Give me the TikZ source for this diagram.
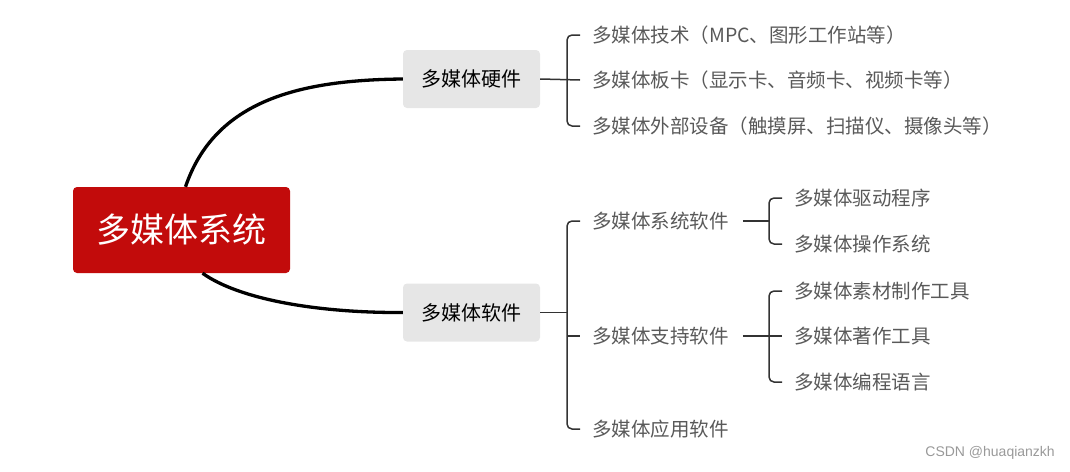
\documentclass[tikz,border=0pt]{standalone}
\usepackage{fontspec}
\setmainfont{Noto Sans CJK SC}
\newfontfamily\wmfont{Liberation Sans}
\definecolor{rootred}{HTML}{C20B0B}
\definecolor{boxgray}{HTML}{E6E6E6}
\definecolor{txtgray}{HTML}{595959}
\definecolor{linegray}{HTML}{333333}
\tikzset{
  rootbox/.style={fill=rootred, rounded corners=4pt, text=white, minimum width=217pt, minimum height=86pt, inner sep=0pt, font=\fontsize{34}{34}\selectfont},
  midbox/.style={fill=boxgray, rounded corners=4pt, text=black, minimum width=137pt, minimum height=58pt, inner sep=0pt, font=\fontsize{20}{20}\selectfont},
  leaf/.style={anchor=west, inner sep=0pt, text=txtgray, font=\fontsize{19.5}{19.5}\selectfont},
  thickcurve/.style={line width=3.3pt, black},
  branch/.style={line width=1.5pt, linegray},
  bracket/.style={line width=1.5pt, linegray, rounded corners=5pt},
}
\begin{document}
\begin{tikzpicture}[x=1pt,y=-1pt]
\useasboundingbox (0,0) rectangle (1070,471);
% main nodes
\node[rootbox] (root) at (181.5,230) {多媒体系统};
\node[midbox] (hw) at (471.5,79) {多媒体硬件};
\node[midbox] (sw) at (471.5,312.5) {多媒体软件};
% curves
\draw[thickcurve] (root.north) ++(4,0) coordinate (rtop) .. controls (215,100) and (300,80) .. (hw.west);
\draw[thickcurve] (root.south) ++(21,0) coordinate (rbot) .. controls (240,300) and (320,313) .. (sw.west);
% hardware leaves
\node[leaf] (h1) at (592,35) {多媒体技术（MPC、图形工作站等）};
\node[leaf] (h2) at (592,80) {多媒体板卡（显示卡、音频卡、视频卡等）};
\node[leaf] (h3) at (592,126) {多媒体外部设备（触摸屏、扫描仪、摄像头等）};
\draw[branch] (hw.east) -- ([xshift=-12pt]h2.west);
\draw[bracket] ([xshift=-12pt]h1.west) -- ([xshift=-25pt]h1.west) -- ([xshift=-25pt]h3.west) -- ([xshift=-12pt]h3.west);
% software level 2
\node[leaf] (s1) at (592,221) {多媒体系统软件};
\node[leaf] (s2) at (592,336) {多媒体支持软件};
\node[leaf] (s3) at (592,429) {多媒体应用软件};
\coordinate (swj) at (567,312.5);
\draw[branch] (sw.east) -- (swj);
\draw[bracket] ([xshift=-12pt]s1.west) -- ([xshift=-25pt]s1.west) -- ([xshift=-25pt]s3.west) -- ([xshift=-12pt]s3.west);
\draw[branch] ([xshift=-25pt]s2.west) -- ([xshift=-12pt]s2.west);
% software level 3 (system)
\node[leaf] (t1) at (794,198) {多媒体驱动程序};
\node[leaf] (t2) at (794,244) {多媒体操作系统};
\draw[branch] ([xshift=14pt]s1.east) -- ([xshift=-25pt]t1.west |- s1.west);
\draw[bracket] ([xshift=-12pt]t1.west) -- ([xshift=-25pt]t1.west) -- ([xshift=-25pt]t2.west) -- ([xshift=-12pt]t2.west);
% software level 3 (support)
\node[leaf] (u1) at (794,291) {多媒体素材制作工具};
\node[leaf] (u2) at (794,336) {多媒体著作工具};
\node[leaf] (u3) at (794,382) {多媒体编程语言};
\draw[branch] ([xshift=14pt]s2.east) -- ([xshift=-12pt]u2.west);
\draw[bracket] ([xshift=-12pt]u1.west) -- ([xshift=-25pt]u1.west) -- ([xshift=-25pt]u3.west) -- ([xshift=-12pt]u3.west);
% watermark
\node[anchor=east, inner sep=0pt, text=black!40, font=\wmfont\fontsize{14}{14}\selectfont] (wm) at (1055,453) {CSDN @huaqianzkh};
\end{tikzpicture}
\end{document}
